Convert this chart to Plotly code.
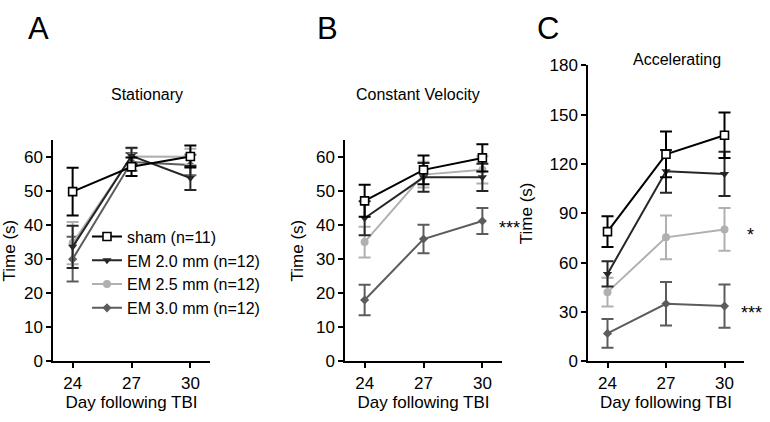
import plotly.graph_objects as go

days = [24, 27, 30]
groups = ["sham (n=11)", "EM 2.0 mm (n=12)", "EM 2.5 mm (n=12)", "EM 3.0 mm (n=12)"]

# Panel A - Stationary
a_sham = [49.8, 57.1, 60.1]
a_sham_err = [7.0, 2.7, 3.2]
a_em20 = [33.6, 60.3, 53.8]
a_em20_err = [6.2, 2.4, 3.5]
a_em25 = [34.7, 60.1, 60.0]
a_em25_err = [6.2, 2.4, 2.4]
a_em30 = [30.0, 58.5, 57.6]
a_em30_err = [6.6, 2.6, 3.0]

# Panel B - Constant Velocity
b_sham = [47.1, 56.2, 59.7]
b_sham_err = [4.7, 4.2, 4.0]
b_em20 = [42.0, 54.0, 54.0]
b_em20_err = [5.0, 4.2, 4.0]
b_em25 = [35.0, 54.8, 56.2]
b_em25_err = [4.5, 3.8, 4.0]
b_em30 = [18.0, 35.9, 41.2]
b_em30_err = [4.5, 4.2, 3.8]

# Panel C - Accelerating
c_sham = [78.9, 125.9, 137.5]
c_sham_err = [9.3, 13.9, 13.9]
c_em20 = [53.2, 115.6, 114.0]
c_em20_err = [7.7, 13.0, 13.5]
c_em25 = [42.1, 75.4, 80.2]
c_em25_err = [8.7, 13.3, 13.0]
c_em30 = [17.0, 35.0, 33.6]
c_em30_err = [8.7, 13.2, 13.2]

titles = ["Stationary", "Constant Velocity", "Accelerating"]
letters = ["A", "B", "C"]
y_title = "Time (s)"
x_title = "Day following TBI"
a_ticks = [0, 10, 20, 30, 40, 50, 60]
c_ticks = [0, 30, 60, 90, 120, 150, 180]
x_range = [23, 31]

# significance marks: text, panel, day position, value level
sig_text = ["***", "*", "***"]
sig_panel = [1, 2, 2]
sig_x = [31.4, 31.33, 31.4]
sig_y = [39.0, 76.8, 29.2]

FONT = "Liberation Sans, Arial, sans-serif"
colors = ["#000000", "#262626", "#b0b0b0", "#5c5c5c"]
symbols = ["square", "triangle-down", "circle", "diamond"]
msizes = [8, 8, 8, 7]

W, H = 770, 422
def px_x(p):
    return p / W
def px_y(p):
    return 1 - p / H

fig = go.Figure()

panels = [
    ("x", "y", [a_sham, a_em20, a_em25, a_em30], [a_sham_err, a_em20_err, a_em25_err, a_em30_err]),
    ("x2", "y2", [b_sham, b_em20, b_em25, b_em30], [b_sham_err, b_em20_err, b_em25_err, b_em30_err]),
    ("x3", "y3", [c_sham, c_em20, c_em25, c_em30], [c_sham_err, c_em20_err, c_em25_err, c_em30_err]),
]

for pi, (xa, ya, vals, errs) in enumerate(panels):
    for gi in reversed(range(4)):
        fig.add_trace(go.Scatter(
            x=days, y=vals[gi], xaxis=xa, yaxis=ya,
            name=groups[gi], legendrank=gi + 1,
            showlegend=(pi == 0),
            mode="lines+markers",
            line=dict(color=colors[gi], width=2),
            marker=dict(symbol=symbols[gi], size=msizes[gi],
                        color="white" if gi == 0 else colors[gi],
                        line=dict(color=colors[gi], width=1.6 if gi == 0 else 0)),
            error_y=dict(type="data", array=errs[gi], color=colors[gi], thickness=2, width=6),
            cliponaxis=False,
        ))

axis_common = dict(
    showline=True, linecolor="black", linewidth=1.5,
    ticks="outside", ticklen=5, tickwidth=1.5, tickcolor="black",
    showgrid=False, zeroline=False,
    tickfont=dict(family=FONT, size=17, color="black"),
)

x_domains = [[px_x(53), px_x(210)], [px_x(345), px_x(502)], [px_x(588), px_x(744)]]
y_domains = [[px_y(369), px_y(137)], [px_y(369), px_y(137)], [px_y(369), px_y(59)]]
y_standoff = [8, 8, 13]

for i in range(3):
    sfx = "" if i == 0 else str(i + 1)
    fig.update_layout(**{
        "xaxis" + sfx: dict(
            axis_common, domain=x_domains[i], range=x_range,
            tickvals=days, anchor="y" + sfx,
            title=dict(text=x_title, font=dict(family=FONT, size=17, color="black"), standoff=4),
        ),
        "yaxis" + sfx: dict(
            axis_common, domain=y_domains[i],
            range=[0, 65] if i < 2 else [0, 180],
            tickvals=a_ticks if i < 2 else c_ticks,
            anchor="x" + sfx,
            title=dict(text=y_title, font=dict(family=FONT, size=17, color="black"),
                       standoff=y_standoff[i]),
        ),
    })

annotations = []
letter_x = [38, 327, 548]
for i in range(3):
    annotations.append(dict(text=letters[i], xref="paper", yref="paper",
                            x=px_x(letter_x[i]), y=px_y(20), showarrow=False,
                            xanchor="center", yanchor="middle",
                            font=dict(family=FONT, size=31, color="black")))
title_pos = [(147, 90), (418, 90), (677, 53)]
for i in range(3):
    annotations.append(dict(text=titles[i], xref="paper", yref="paper",
                            x=px_x(title_pos[i][0]), y=px_y(title_pos[i][1]), showarrow=False,
                            xanchor="center", yanchor="middle",
                            font=dict(family=FONT, size=16, color="black")))

for t, p, xv, yv in zip(sig_text, sig_panel, sig_x, sig_y):
    sfx = "" if p == 0 else str(p + 1)
    annotations.append(dict(text=t, xref="x" + sfx + " domain", yref="y" + sfx,
                            x=(xv - x_range[0]) / (x_range[1] - x_range[0]), y=yv,
                            showarrow=False, xanchor="center", yanchor="middle",
                            font=dict(family=FONT, size=18, color="black")))

fig.update_layout(
    width=W, height=H,
    margin=dict(l=0, r=0, t=0, b=0),
    paper_bgcolor="white", plot_bgcolor="white",
    font=dict(family=FONT, color="black"),
    annotations=annotations,
    legend=dict(
        x=px_x(87), y=px_y(276), xanchor="left", yanchor="middle",
        bgcolor="rgba(0,0,0,0)", itemwidth=30,
        font=dict(family=FONT, size=16, color="black"),
        traceorder="normal",
    ),
)

# remove the default 8px page margin so the figure sits at the window origin
fig.write_html("out.html",
               config={"displayModeBar": False},
               post_script="document.body.style.margin='0';document.body.style.overflow='hidden';")
